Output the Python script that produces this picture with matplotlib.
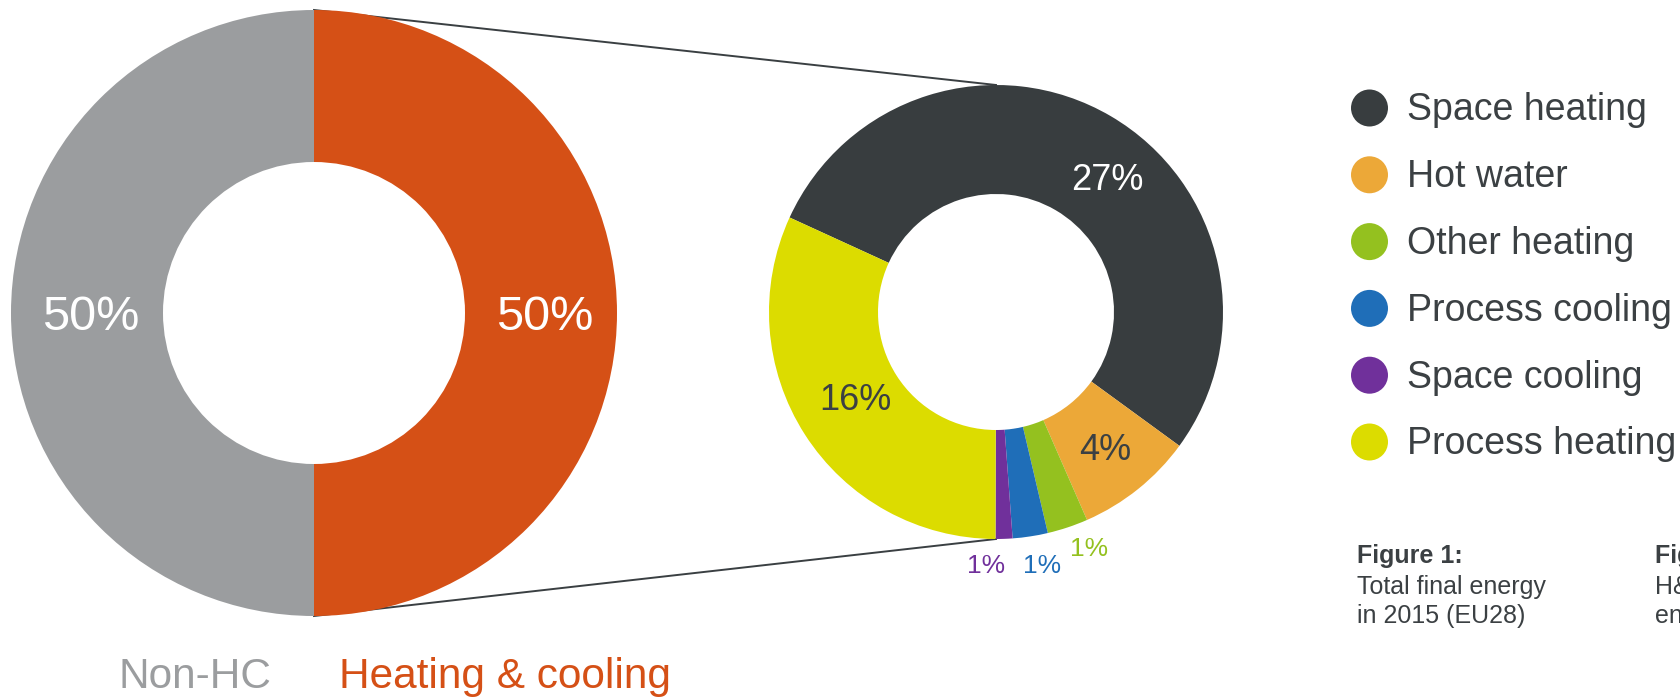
import matplotlib.pyplot as plt

plt.rcParams['font.family'] = ['Liberation Sans', 'DejaVu Sans']

W, H = 1680, 697

# total final energy (left ring)
total_labels = ["Non-HC", "Heating & cooling"]
total_values = [50, 50]
total_colors = ["#9b9d9f", "#d55016"]
total_pct = ["50%", "50%"]

# H&C breakdown (right ring), share of total final energy
hc_labels = ["Space heating", "Hot water", "Other heating",
             "Process cooling", "Space cooling", "Process heating"]
hc_values = [26.6, 4.2, 1.45, 1.25, 0.6, 15.9]
hc_pct = ["27%", "4%", "1%", "1%", "1%", "16%"]
hc_colors = ["#383d3f", "#eca838", "#94c11f", "#1f6eb8", "#70309b", "#dcdc00"]

DARK = "#3b4043"


def py(y):
    # picture rows are counted from the top
    return H - y


fig = plt.figure(figsize=(W / 100, H / 100), dpi=100)
ax = fig.add_axes([0, 0, 1, 1])

# left ring
c1, R1, r1 = (314, py(313)), 303, 151
ax.pie(total_values, colors=total_colors, startangle=90, counterclock=True,
       center=c1, radius=R1, wedgeprops=dict(width=R1 - r1, linewidth=0))

# right ring
c2, R2, r2 = (996, py(312)), 227, 118
ax.pie(hc_values, colors=hc_colors, startangle=155.4, counterclock=False,
       center=c2, radius=R2, wedgeprops=dict(width=R2 - r2, linewidth=0))

# zoom lines between the rings
ax.plot([c1[0], c2[0]], [c1[1] + R1, c2[1] + R2], color="#3a3f42", lw=1.4, zorder=0)
ax.plot([c1[0], c2[0]], [c1[1] - R1, c2[1] - R2], color="#3a3f42", lw=1.4, zorder=0)

ax.set_xlim(0, W)
ax.set_ylim(0, H)
ax.set_aspect('auto')
ax.axis('off')

# percentages on the left ring
ax.text(91, py(318), total_pct[0], color="white", fontsize=35, ha="center", va="center")
ax.text(545, py(318), total_pct[1], color="white", fontsize=35, ha="center", va="center")

# percentages on the right ring
ax.text(1107, py(181), hc_pct[0], color="white", fontsize=26, ha="center", va="center")
ax.text(1105, py(450), hc_pct[1], color=DARK, fontsize=26, ha="center", va="center")
ax.text(855, py(400), hc_pct[5], color=DARK, fontsize=26, ha="center", va="center")
ax.text(1089, py(549), hc_pct[2], color=hc_colors[2], fontsize=19, ha="center", va="center")
ax.text(1042, py(566), hc_pct[3], color=hc_colors[3], fontsize=19, ha="center", va="center")
ax.text(986, py(566), hc_pct[4], color=hc_colors[4], fontsize=19, ha="center", va="center")

# names under the left ring
ax.text(118, py(688), total_labels[0], color=total_colors[0], fontsize=30.5, ha="left", va="baseline")
ax.text(339, py(688), total_labels[1], color=total_colors[1], fontsize=30.5, ha="left", va="baseline")

# legend
for i, (lab, col) in enumerate(zip(hc_labels, hc_colors)):
    y = 108 + i * 66.8
    ax.add_patch(plt.Circle((1369.5, py(y)), 18.5, color=col, lw=0))
    ax.text(1407, py(y + 12.5), lab, color=DARK, fontsize=27, ha="left", va="baseline")

# captions
ax.text(1357, py(563), "Figure 1:", color=DARK, fontsize=18, fontweight="bold", va="baseline")
ax.text(1357, py(594), "Total final energy", color=DARK, fontsize=18, va="baseline")
ax.text(1357, py(623), "in 2015 (EU28)", color=DARK, fontsize=18, va="baseline")
ax.text(1655, py(563), "Figure 2:", color=DARK, fontsize=18, fontweight="bold", va="baseline")
ax.text(1655, py(594), "H&C final", color=DARK, fontsize=18, va="baseline")
ax.text(1655, py(623), "energy", color=DARK, fontsize=18, va="baseline")

fig.savefig("out.png", dpi=100)
